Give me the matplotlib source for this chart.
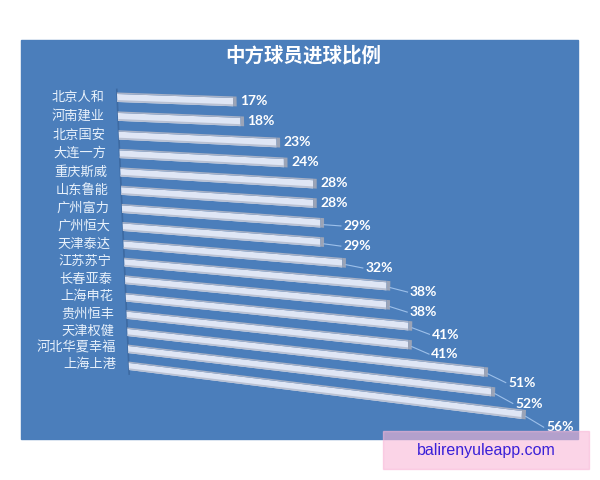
import numpy as np
import matplotlib
matplotlib.use("Agg")
import matplotlib.pyplot as plt
from matplotlib.patches import Rectangle
from matplotlib.transforms import Transform

plt.rcParams['font.family'] = ['Noto Sans CJK SC', 'DejaVu Sans']

# data
title = "中方球员进球比例"
teams = ["北京人和", "河南建业", "北京国安", "大连一方", "重庆斯威", "山东鲁能",
         "广州富力", "广州恒大", "天津泰达", "江苏苏宁", "长春亚泰", "上海申花",
         "贵州恒丰", "天津权健", "河北华夏幸福", "上海上港"]
ratios = [17, 18, 23, 24, 28, 28, 29, 29, 32, 38, 38, 41, 41, 51, 52, 56]
watermark = "balirenyuleapp.com"

PANEL = "#4b7ebb"
BAR = "#dfe6f5"
BAR_H = 0.42


class Perspective(Transform):
    """Homography from the chart plane (value %, row) to pixel coords."""
    input_dims = 2
    output_dims = 2
    is_separable = False
    has_inverse = False

    def __init__(self, src, dst):
        super().__init__()
        a, b = [], []
        for (x, y), (u, v) in zip(src, dst):
            a.append([x, y, 1, 0, 0, 0, -u * x, -u * y])
            b.append(u)
            a.append([0, 0, 0, x, y, 1, -v * x, -v * y])
            b.append(v)
        h = np.linalg.solve(np.array(a, float), np.array(b, float))
        self.H = np.append(h, 1).reshape(3, 3)

    def transform_non_affine(self, values):
        xy = np.atleast_2d(np.asarray(values, float))
        p = np.column_stack([xy, np.ones(len(xy))]) @ self.H.T
        return p[:, :2] / p[:, 2:3]


fig = plt.figure(figsize=(6, 4.8), dpi=100)
ax = fig.add_axes([0, 0, 1, 1])

# anchor corners of the tilted plane (plane coords -> pixels)
last = len(teams) - 1
persp = Perspective(
    [(0, -BAR_H / 2), (17, -BAR_H / 2), (56, last - BAR_H / 2), (0, last + BAR_H / 2)],
    [(117, 94), (233, 98), (522, 411), (129, 370)],
)
tr = persp + ax.transData

ax.add_patch(Rectangle((21, 40), 557, 399, color=PANEL, zorder=0))
ax.text(303, 56, title, ha="center", va="center", fontsize=14,
        fontweight="bold", color="white", zorder=5)

rows = np.arange(len(teams))
vals = np.array(ratios, float)

# left wall edge
ax.plot([0, 0], [-0.45, last + 0.45], color="#3d6aa2", lw=1.2, transform=tr, zorder=2)

# 3d-ish bars: body, top face strip, bottom shade, end cap
ax.barh(rows, vals, height=BAR_H, color=BAR, transform=tr, zorder=3)
ax.barh(rows - BAR_H / 2 - 0.04, vals, height=0.08, color="#a9b2c6", transform=tr, zorder=3)
ax.barh(rows + BAR_H / 2 - 0.05, vals, height=0.1, color="#b9c1d3", transform=tr, zorder=4)
ax.barh(rows - 0.04, 0.5, left=vals, height=BAR_H + 0.08, color="#9ba4b7",
        transform=tr, zorder=4)

# category labels
for i, name in enumerate(teams):
    ax.text(-2.0, i, name, ha="right", va="center", fontsize=9.5,
            color="#e8f1fb", transform=tr, zorder=5)

# value labels, lower ones pushed out with a leader line
for i, v in enumerate(vals):
    if i >= 6:
        dx, dy = 3.1, 0.05 * (i - 5)
        ax.plot([v + 0.5, v + dx - 0.3], [i + 0.05, i + dy], color="#9dc0ea",
                lw=0.8, transform=tr, zorder=4)
    else:
        dx, dy = 1.0, -0.08
    ax.text(v + dx, i + dy, f"{int(v)}%", ha="left", va="center", fontsize=10,
            fontweight="bold", family="Lato", color="white", transform=tr, zorder=5)

# watermark
ax.add_patch(Rectangle((383, 431), 206, 38, color="#f9b8d8", alpha=0.6, zorder=10))
ax.text(486, 451, watermark, ha="center", va="center", fontsize=11.5,
        family="Liberation Sans", color="#3a20d8", zorder=11)

ax.set_xlim(0, 600)
ax.set_ylim(480, 0)
ax.axis("off")

fig.savefig("out.png", dpi=100)
